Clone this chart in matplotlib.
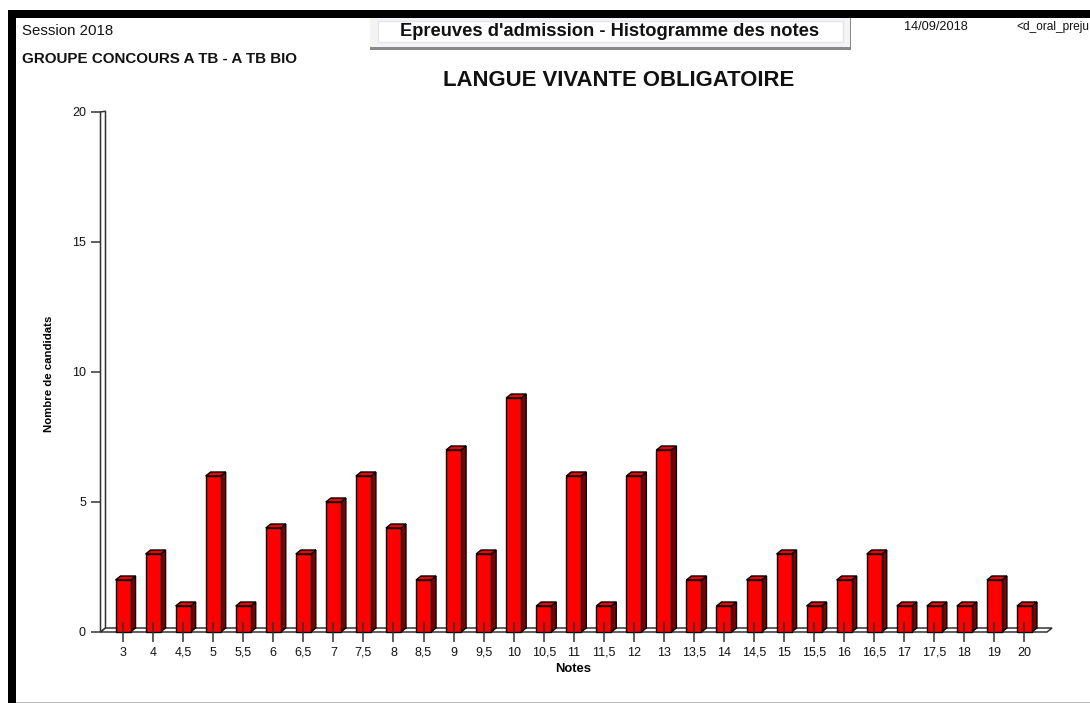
import matplotlib
matplotlib.use('Agg')
import matplotlib.pyplot as plt
from matplotlib.patches import Polygon, Rectangle

plt.rcParams['font.family'] = ['Liberation Sans', 'DejaVu Sans']

# Notes et effectifs
notes = ['3', '4', '4,5', '5', '5,5', '6', '6,5', '7', '7,5', '8', '8,5', '9', '9,5', '10', '10,5', '11',
         '11,5', '12', '13', '13,5', '14', '14,5', '15', '15,5', '16', '16,5', '17', '17,5', '18', '19', '20']
candidats = [2, 3, 1, 6, 1, 4, 3, 5, 6, 4, 2, 7, 3, 9, 1, 6, 1, 6, 7, 2, 1, 2, 3, 1, 2, 3, 1, 1, 1, 2, 1]
y_ticks = [0, 5, 10, 15, 20]

W, H = 1090, 703
fig = plt.figure(figsize=(W / 100, H / 100), dpi=100)


def px_box(x0, y0, x1, y1):
    return (x0 / W, 1 - y1 / H, (x1 - x0) / W, (y1 - y0) / H)


# Axe principal : 0 en bas, 20 en haut, une catégorie = 30 px
ax = fig.add_axes(px_box(100.5, 112, 1047, 632))
ax.set_xlim(-0.75, 30.75)
ax.set_ylim(0, 20)
ax.patch.set_alpha(0)
for s in ax.spines.values():
    s.set_visible(False)

# profondeur du faux 3D, en unités de données
dx = 5 / 30.05
dy = 4 / 26
bar_w = 0.5
x_left, x_right = ax.get_xlim()

# Mur et sol
ax.add_patch(Polygon([(x_left, 0), (x_left + 1.0 * dx, dy), (x_left + dx, 20 + dy * 0.2), (x_left, 20)],
                     closed=True, fc='white', ec='#333333', lw=1.1, clip_on=False, zorder=1))
ax.add_patch(Polygon([(x_left, 0), (x_left + dx, dy), (x_right + dx, dy), (x_right, 0)],
                     closed=True, fc='white', ec='#333333', lw=1.1, clip_on=False, zorder=1))

# Barres
for i, v in enumerate(candidats):
    x0 = i - bar_w / 2
    x1 = i + bar_w / 2
    ax.add_patch(Polygon([(x1, 0), (x1 + dx, dy), (x1 + dx, v + dy), (x1, v)],
                         closed=True, fc='#800000', ec='black', lw=1, clip_on=False, zorder=2))
    ax.add_patch(Polygon([(x0, v), (x0 + dx, v + dy), (x1 + dx, v + dy), (x1, v)],
                         closed=True, fc='#f00000', ec='black', lw=1, clip_on=False, zorder=2))
    ax.add_patch(Rectangle((x0, 0), bar_w, v, fc='#ff0000', ec='black', lw=1, clip_on=False, zorder=2))

ax.set_axisbelow(False)
ax.set_xticks(range(len(notes)))
ax.set_xticklabels(notes, fontsize=9, color='#111111', va='baseline')
ax.set_yticks(y_ticks)
ax.tick_params(axis='x', direction='inout', length=14.4, width=1.1, color='#333333', pad=9.9)
ax.tick_params(axis='y', direction='out', length=7.5, width=1.1, color='#333333', pad=3, labelsize=9,
               labelcolor='#111111')
ax.set_xlabel('Notes', fontsize=9.4, fontweight='bold')
ax.xaxis.set_label_coords((573 - 100.5) / 946.5, -(663.5 - 632) / 520)
ax.set_ylabel('Nombre de candidats', fontsize=8.2, fontweight='bold')
ax.yaxis.set_label_coords((54 - 100.5) / 946.5, (632 - 374) / 520)

# Cadre noir de la capture
fig.patches.append(Rectangle((8 / W, 1 - 18 / H), 1 - 8 / W, 8 / H, transform=fig.transFigure, fc='black', ec='none'))
fig.patches.append(Rectangle((8 / W, 0), 8 / W, 1 - 10 / H, transform=fig.transFigure, fc='black', ec='none'))
fig.patches.append(Rectangle((16 / W, 1 - 702.5 / H), 1, 1 / H, transform=fig.transFigure, fc='#bbbbbb', ec='none'))

# Encadré du titre
fig.patches.append(Rectangle((370 / W, 1 - 49 / H), 481 / W, 31 / H, transform=fig.transFigure,
                             fc='#f4f4f4', ec='none'))
fig.patches.append(Rectangle((370 / W, 1 - 49.5 / H), 481 / W, 2 / H, transform=fig.transFigure,
                             fc='#888888', ec='none'))
fig.patches.append(Rectangle((849.5 / W, 1 - 49 / H), 2 / W, 31 / H, transform=fig.transFigure,
                             fc='#888888', ec='none'))
fig.patches.append(Rectangle((378 / W, 1 - 42 / H), 465 / W, 21 / H, transform=fig.transFigure,
                             fc='white', ec='#e4e4ec', lw=1))


def txt(x, y, s, **kw):
    fig.text(x / W, 1 - y / H, s, va='center', color='#111111', **kw)


txt(22, 31, 'Session 2018', fontsize=10.8)
txt(22, 59, 'GROUPE CONCOURS A TB - A TB BIO', fontsize=10.9, fontweight='bold')
txt(610, 32, "Epreuves d'admission - Histogramme des notes", fontsize=13.25, fontweight='bold', ha='center')
txt(619, 81, 'LANGUE VIVANTE OBLIGATOIRE', fontsize=15.95, fontweight='bold', ha='center')
txt(904, 27, '14/09/2018', fontsize=9.2)
txt(1016.5, 27, '<d_oral_preju', fontsize=8.6)

fig.savefig('out.png', dpi=100)
